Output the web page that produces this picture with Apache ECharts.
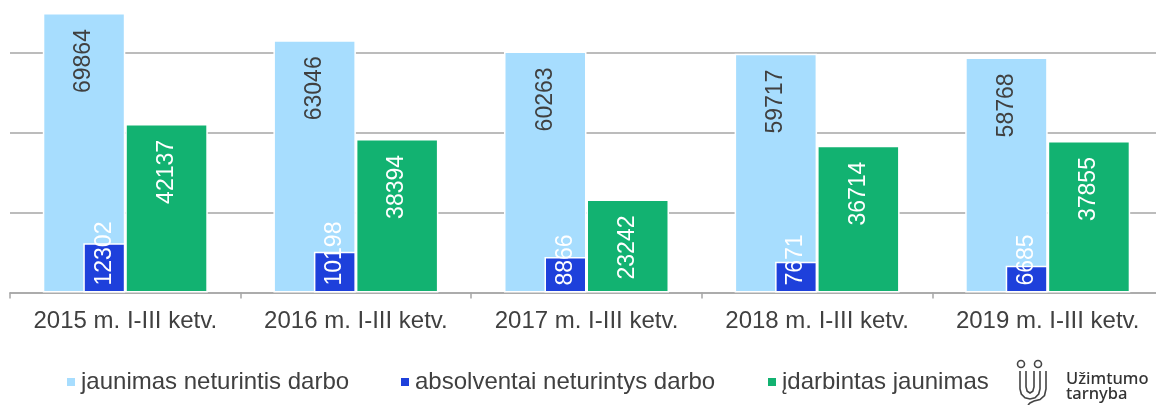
<!DOCTYPE html>
<html>
<head>
<meta charset="utf-8">
<script src="https://cdn.jsdelivr.net/npm/echarts@6/dist/echarts.min.js"></script>
<style>
html,body{margin:0;padding:0;background:#fff;}
#c{width:1156px;height:405px;}
</style>
</head>
<body>
<div id="c"></div>
<script>
const categories = ['2015 m. I-III ketv.', '2016 m. I-III ketv.', '2017 m. I-III ketv.', '2018 m. I-III ketv.', '2019 m. I-III ketv.'];
const seriesNames = ['jaunimas neturintis darbo', 'absolventai neturintys darbo', 'įdarbintas jaunimas'];
const youthUnemployed = [69864, 63046, 60263, 59717, 58768];
const graduatesUnemployed = [12302, 10198, 8866, 7671, 6685];
const youthEmployed = [42137, 38394, 23242, 36714, 37855];
const placeholder = [0, 0, 0, 0, 0];

const FONT = '"Liberation Sans", Arial, sans-serif';
const TXT = '#404040';
const C_LIGHT = '#A7DDFE';
const C_DARK = '#1E40DB';
const C_GREEN = '#12B271';
const GRID = '#A6A6A6';

const chart = echarts.init(document.getElementById('c'), null, {renderer: 'canvas'});

function topLabel(color) {
  return {
    show: true, position: 'insideTop', distance: 16, rotate: 90,
    align: 'right', verticalAlign: 'middle',
    color: color, fontSize: 23, fontFamily: FONT
  };
}

const legendBase = {
  top: 370, padding: 0, itemWidth: 10, itemHeight: 10, icon: 'rect',
  selectedMode: false, itemGap: 0,
  textStyle: {fontSize: 24, color: TXT, fontFamily: FONT}
};

const LOGO_STROKE = {fill: 'none', stroke: '#444', lineWidth: 1.6};

chart.setOption({
  animation: false,
  backgroundColor: '#fff',
  grid: {left: 10, width: 1153, top: 12.5, bottom: 112.5, containLabel: false, outerBoundsMode: 'none'},
  legend: [
    Object.assign({}, legendBase, {left: 65, data: [seriesNames[0]]}),
    Object.assign({}, legendBase, {left: 399, data: [seriesNames[1]]}),
    Object.assign({}, legendBase, {left: 766, data: [seriesNames[2]]})
  ],
  xAxis: [
    {
      type: 'category', data: categories,
      axisLine: {show: true, lineStyle: {color: GRID, width: 1.5}},
      axisTick: {show: true, interval: 0, length: 6, lineStyle: {color: GRID, width: 1.5}},
      axisLabel: {interval: 0, color: TXT, fontSize: 24, fontFamily: FONT, margin: 17}
    },
    {
      type: 'category', data: categories, show: false,
      axisLine: {show: false}, axisTick: {show: false}, axisLabel: {show: false}
    }
  ],
  yAxis: {
    type: 'value', min: 0, max: 70000, interval: 20000,
    axisLine: {show: false}, axisTick: {show: false}, axisLabel: {show: false},
    splitLine: {show: true, lineStyle: {color: [GRID, GRID, GRID, GRID, 'rgba(0,0,0,0)'], width: 1.5}}
  },
  series: [
    {
      name: seriesNames[0], type: 'bar', xAxisIndex: 0, data: youthUnemployed,
      barWidth: 82.5, barGap: '0%',
      itemStyle: {color: C_LIGHT, borderColor: '#fff', borderWidth: 1.5},
      label: topLabel(TXT)
    },
    {
      name: seriesNames[2], type: 'bar', xAxisIndex: 0, data: youthEmployed,
      barWidth: 82.5, barGap: '0%',
      itemStyle: {color: C_GREEN, borderColor: '#fff', borderWidth: 1.5},
      label: topLabel('#fff')
    },
    {
      name: seriesNames[1], type: 'bar', xAxisIndex: 1, data: graduatesUnemployed,
      barWidth: 42, barGap: '0%', z: 3,
      itemStyle: {color: C_DARK, borderColor: '#fff', borderWidth: 1.5},
      label: {
        show: true, position: 'insideBottom', distance: 7, rotate: 90,
        align: 'left', verticalAlign: 'middle',
        color: '#fff', fontSize: 23, fontFamily: FONT
      }
    },
    {
      name: 'spacer', type: 'bar', xAxisIndex: 1, data: placeholder,
      barWidth: 42, barGap: '0%', silent: true,
      itemStyle: {color: 'rgba(0,0,0,0)'}, label: {show: false}
    }
  ],
  graphic: [
    {type: 'circle', shape: {cx: 1021, cy: 364, r: 3.5}, style: LOGO_STROKE},
    {type: 'circle', shape: {cx: 1038, cy: 364, r: 3.5}, style: LOGO_STROKE},
    {type: 'polyline', shape: {points: [[1020,371],[1020,389],[1021.3,394],[1025,397.7],[1030,399],[1035,397.7],[1038.7,394],[1040,389],[1040,371]]}, style: LOGO_STROKE},
    {type: 'polyline', shape: {points: [[1026,371],[1026,387],[1027.2,391.2],[1030,393],[1032.8,391.2],[1034,387],[1034,371]]}, style: LOGO_STROKE},
    {type: 'polyline', shape: {points: [[1046,371],[1046,389],[1044.5,395.5],[1040,399.5],[1034,401],[1030,403],[1028,405]]}, style: LOGO_STROKE},
    {type: 'text', left: 1066, top: 371, style: {text: 'Užimtumo', fontSize: 16.5, fontWeight: 500, fontFamily: '"Noto Sans", Inter, sans-serif', fill: '#333'}},
    {type: 'text', left: 1066, top: 386, style: {text: 'tarnyba', fontSize: 16.5, fontWeight: 500, fontFamily: '"Noto Sans", Inter, sans-serif', fill: '#333'}}
  ]
});
</script>
</body>
</html>
